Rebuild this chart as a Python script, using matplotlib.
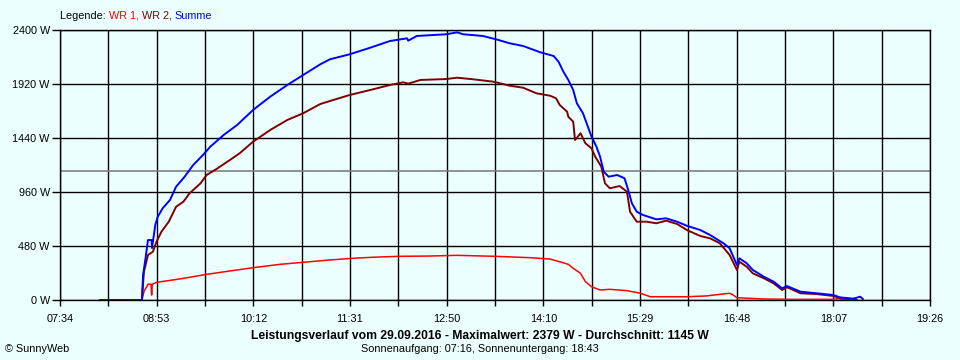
import matplotlib
matplotlib.use("Agg")
import matplotlib.pyplot as plt
import numpy as np

plt.rcParams['font.family'] = ['Liberation Sans', 'DejaVu Sans']

# time in minutes after midnight, power in W
sum_t = [487, 521, 522, 524, 526, 529, 529.3, 532, 534, 538, 544, 549, 556, 563, 571, 577, 588, 599, 612, 626,
         640, 653, 667, 675, 691, 708, 724, 738, 739, 746, 770, 779, 784, 800, 811, 822, 833, 847, 858, 862,
         866, 870, 874, 877, 882, 885, 889, 893, 896, 899, 903, 910, 916, 919, 922, 926, 931, 942, 950, 959,
         967, 978, 986, 997, 1002, 1005, 1008, 1010, 1016, 1021, 1030, 1038, 1045, 1049, 1060, 1073, 1087,
         1092, 1103, 1109, 1111]
sum_w = [0, 0, 222, 371, 533, 533, 462, 667, 740, 815, 889, 1007, 1096, 1200, 1289, 1363, 1467, 1556, 1689, 1807,
         1911, 2000, 2095, 2140, 2184, 2243, 2302, 2326, 2305, 2347, 2362, 2379, 2362, 2347, 2317, 2282, 2258, 2202, 2169, 2118,
         2029, 1956, 1867, 1748, 1660, 1571, 1452, 1363, 1274, 1140, 1096, 1111, 1082, 978, 860, 785, 756, 717, 726, 696,
         660, 622, 578, 504, 460, 385, 311, 371, 326, 267, 207, 163, 104, 124, 74, 60, 44,
         24, 12, 29, 9]

wr2_t = [487, 521, 522.7, 526, 530, 533, 537, 543, 549, 555, 560, 569, 574, 582, 593, 601, 612, 626, 640, 653,
         667, 675, 691, 708, 724, 735, 739, 749, 770, 779, 792, 809, 822, 833, 844, 855, 860, 863, 869, 870,
         874, 875.5, 880, 884, 889, 892, 897, 900, 904, 912, 918, 920.5, 926, 934, 942, 950, 959, 967, 978,
         986, 994, 1002, 1008, 1010, 1016, 1021, 1030, 1038, 1045, 1049, 1060, 1073, 1087, 1092, 1106]
wr2_w = [0, 0, 252, 400, 429, 518, 607, 696, 829, 874, 948, 1037, 1111, 1164, 1244, 1304, 1407, 1511, 1600, 1660,
         1742, 1769, 1822, 1867, 1911, 1935, 1923, 1956, 1964, 1976, 1962, 1940, 1905, 1887, 1837, 1816, 1793, 1733, 1674, 1629,
         1585, 1422, 1482, 1393, 1348, 1274, 1185, 1037, 993, 1013, 963, 785, 696, 696, 682, 705, 676, 622, 569,
         548, 504, 400, 267, 340, 296, 237, 193, 148, 89, 113, 60, 53, 36, 15, 0]

wr1_t = [487, 521, 522.7, 526, 528.5, 529, 529.5, 533, 552, 574, 593, 612, 634, 653, 675, 694, 710, 730, 757, 779,
         811, 839, 855, 863, 870, 874, 880, 884, 889, 896, 904, 918, 929, 937, 967, 983, 989, 1002, 1005, 1008,
         1030, 1049, 1087, 1092, 1096]
wr1_w = [0, 0, 74, 140, 140, 44, 140, 157, 187, 228, 258, 287, 317, 335, 356, 371, 380, 388, 391, 397,
         388, 376, 364, 340, 317, 282, 237, 163, 118, 89, 95, 83, 60, 29, 29, 36, 44, 60, 44, 20,
         9, 6, 6, 12, 0]

avg_w = 1145
x_labels = ["07:34", "08:53", "10:12", "11:31", "12:50", "14:10", "15:29", "16:48", "18:07", "19:26"]
y_ticks = [0, 480, 960, 1440, 1920, 2400]

bg = '#EBFFFF'
fs = 7.8
fig = plt.figure(figsize=(9.6, 3.6), dpi=100, facecolor=bg)
ax = fig.add_axes([60/960, 60/360, 870/960, 270/360], facecolor=bg)

x0, x1 = 454, 1166
ax.set_xlim(x0, x1)
ax.set_ylim(0, 2400)
grid_x = np.linspace(x0, x1, 19)
for gx in grid_x:
    ax.axvline(gx, color='black', lw=1.0, zorder=1)
for gy in y_ticks:
    ax.axhline(gy, color='black', lw=1.0, zorder=1)
ax.axhline(avg_w, color='#808080', lw=1.2, zorder=1.5)

ax.plot(wr1_t, wr1_w, color='#FF0000', lw=1.1, zorder=3)
ax.plot(wr2_t, wr2_w, color='#800000', lw=1.4, zorder=4)
ax.plot(sum_t, sum_w, color='#0000FF', lw=1.4, zorder=5)

ax.set_xticks(grid_x)
ax.set_xticklabels([x_labels[i // 2] if i % 2 == 0 else '' for i in range(19)])
ax.set_yticks(y_ticks)
ax.set_yticklabels([f"{v} W" for v in y_ticks])
ax.tick_params(axis='x', direction='out', length=4, width=1, pad=6, labelsize=fs, colors='black')
ax.tick_params(axis='y', direction='out', length=5.8, width=1, pad=1.5, labelsize=fs, colors='black')
for s in ax.spines.values():
    s.set_color('black')
    s.set_linewidth(1.0)

# legend at top
fig.canvas.draw()
r = fig.canvas.get_renderer()
xpos = 60
parts = [("Legende: ", 'black'), ("WR 1, ", '#FF0000'), ("WR 2, ", '#800000'), ("Summe", '#0000FF')]
for txt, col in parts:
    t = fig.text(xpos / 960, 1 - 16 / 360, txt, color=col, fontsize=fs, va='center', ha='left')
    bb = t.get_window_extent(renderer=r)
    xpos += bb.width

fig.text(480 / 960, 1 - 336 / 360, "Leistungsverlauf vom 29.09.2016 - Maximalwert: 2379 W - Durchschnitt: 1145 W",
         fontsize=8.7, fontweight='bold', ha='center', va='center')
fig.text(480 / 960, 1 - 349 / 360, "Sonnenaufgang: 07:16, Sonnenuntergang: 18:43",
         fontsize=fs, ha='center', va='center')
fig.text(5 / 960, 1 - 349 / 360, "© SunnyWeb", fontsize=fs, ha='left', va='center')

fig.savefig("out.png", dpi=100, facecolor=bg)
